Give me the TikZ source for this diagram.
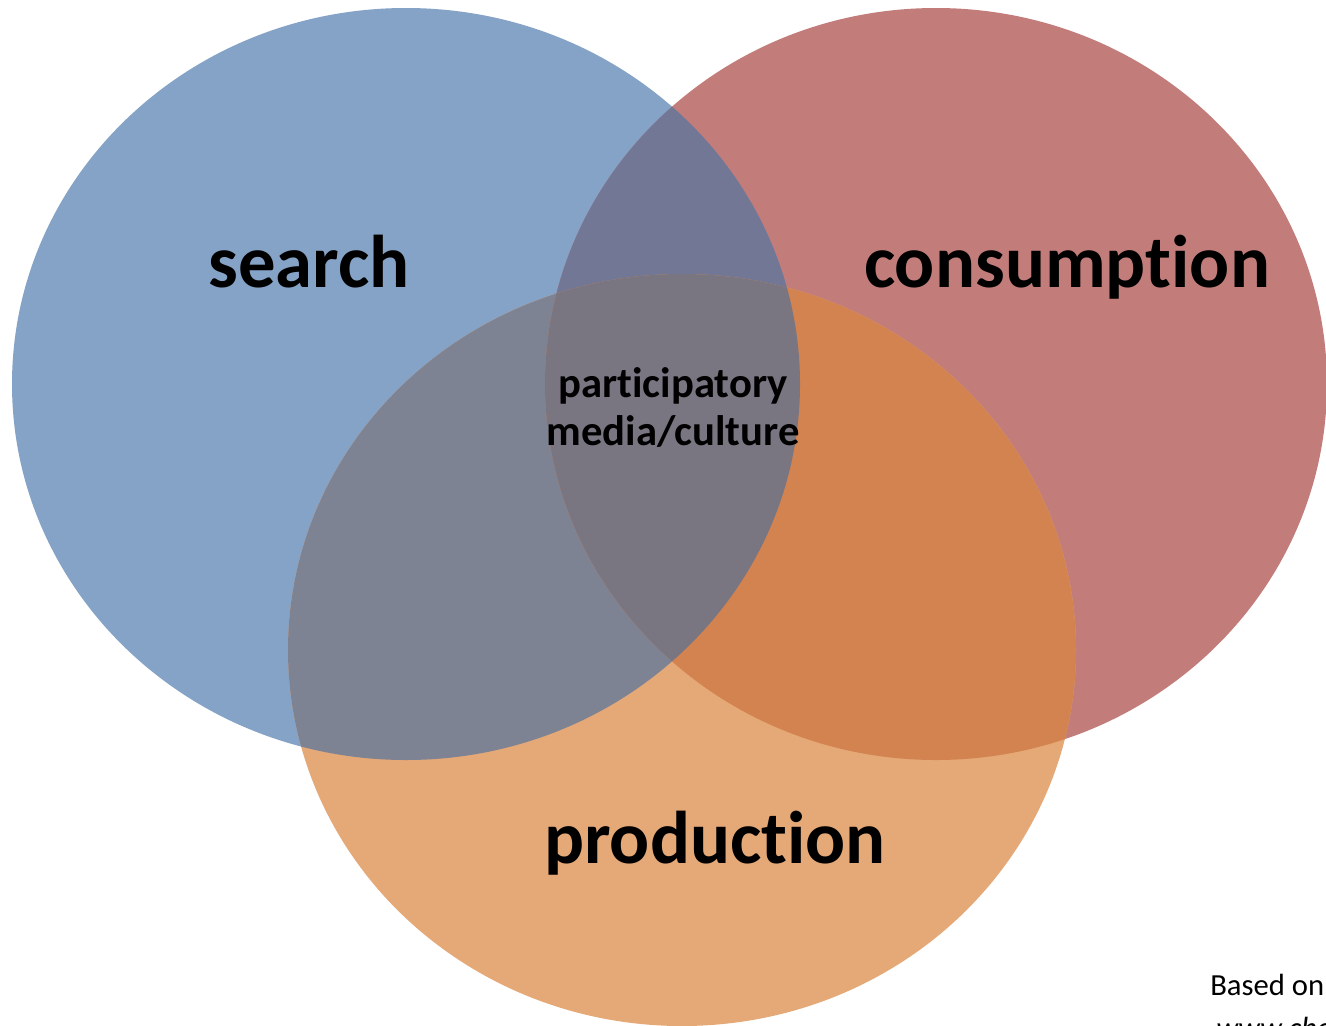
\documentclass[tikz,border=0pt]{standalone}
\usepackage{fontspec}
\setmainfont[Ligatures=NoCommon]{Carlito}
\definecolor{cblue}{RGB}{133,162,199}
\definecolor{cred}{RGB}{194,125,123}
\definecolor{corange}{RGB}{229,168,119}
\definecolor{cbr}{RGB}{114,119,150}
\definecolor{cbo}{RGB}{126,131,147}
\definecolor{cro}{RGB}{211,131,80}
\definecolor{call}{RGB}{121,118,130}
\tikzset{
  big/.style={font=\bfseries\fontsize{56}{62}\selectfont, anchor=base, inner sep=0pt},
  mid/.style={font=\bfseries\fontsize{32}{36}\selectfont, anchor=base, inner sep=0pt},
  small/.style={font=\fontsize{23}{27}\selectfont, anchor=base west, inner sep=0pt}
}
\def\blueE{(406,384) ellipse [x radius=394, y radius=376]}
\def\redE{(936,384) ellipse [x radius=391, y radius=376]}
\def\orangeE{(682,650) ellipse [x radius=394, y radius=376]}
\begin{document}
\begin{tikzpicture}[x=0.75pt,y=-0.75pt]
\useasboundingbox (0,0) rectangle (1326,1025);
\clip (0,0) rectangle (1326,1025);
\fill[cblue] \blueE;
\fill[cred] \redE;
\fill[corange] \orangeE;
\begin{scope}
  \clip \blueE;
  \fill[cbr] \redE;
\end{scope}
\begin{scope}
  \clip \blueE;
  \fill[cbo] \orangeE;
\end{scope}
\begin{scope}
  \clip \redE;
  \fill[cro] \orangeE;
\end{scope}
\begin{scope}
  \clip \blueE;
  \clip \redE;
  \fill[call] \orangeE;
\end{scope}
\node[big] (search) at (309,287) {search};
\node[big] (consumption) at (1067,287) {consumption};
\node[big] (production) at (715,863) {production};
\node[mid] (part) at (673,397) {participatory};
\node[mid] (media) at (673,445) {media/culture};
\node[small] (based) at (1210,995) {Based on};
\node[small, font=\itshape\fontsize{23}{27}\selectfont] (www) at (1216,1038) {www.cho};
\end{tikzpicture}
\end{document}
